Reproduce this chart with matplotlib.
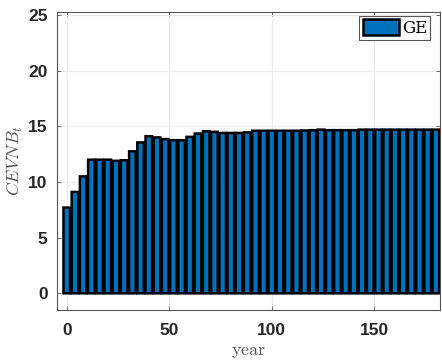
import numpy as np
import matplotlib
matplotlib.use("Agg")
import matplotlib.pyplot as plt

# Yearly values of CEVNB_t for the GE scenario, every 4 years
years = np.arange(0, 181, 4)
cevnb = [7.7, 9.1, 10.5, 12.0, 12.0, 12.0, 11.9, 11.95, 12.75, 13.55,
         14.1, 14.0, 13.85, 13.75, 13.75, 14.05, 14.35, 14.55, 14.5, 14.4,
         14.4, 14.4, 14.45, 14.6, 14.6, 14.6, 14.6, 14.6, 14.6, 14.62,
         14.65, 14.7, 14.65, 14.65, 14.65, 14.65, 14.7, 14.7, 14.7, 14.7,
         14.7, 14.7, 14.7, 14.7, 14.7, 14.7]
series_label = "GE"
xticks = [0, 50, 100, 150]
yticks = [0, 5, 10, 15, 20, 25]

plt.rcParams["mathtext.fontset"] = "cm"

fig = plt.figure(figsize=(4.42, 3.62), dpi=100)
ax = fig.add_axes([0.1297, 0.1436, 0.8658, 0.8244])

bars = ax.bar(years, cevnb, width=3.2, color="#0072BD", edgecolor="black",
              linewidth=1.8, label=series_label, zorder=3)
for b in bars:
    b.set_snap(False)

ax.set_xlim(-4.6, 182)
ax.set_ylim(-1.5, 25.3)
ax.set_xticks(xticks)
ax.set_yticks(yticks)
ax.grid(True, color="#ebebeb", linewidth=0.8, zorder=0)

dark = "#262626"
for s in ax.spines.values():
    s.set_color("#555555")
    s.set_linewidth(0.8)
ax.tick_params(direction="in", length=3, width=0.6, color="#555555",
               top=True, right=True, labelsize=12.5, labelcolor=dark)
ax.tick_params(axis="x", pad=9)
ax.tick_params(axis="y", pad=7)
for lab in ax.get_xticklabels() + ax.get_yticklabels():
    lab.set_fontfamily("Liberation Sans")
    lab.set_fontweight("bold")

ax.set_xlabel(r"$\mathrm{year}$", fontsize=13, color="#555555", labelpad=3)
ax.set_ylabel(r"$CEVNB_t$", fontsize=13, color="#555555", labelpad=2)

leg = ax.legend(loc="upper right", bbox_to_anchor=(0.975, 0.985),
                prop={"family": "DejaVu Serif", "size": 12},
                handlelength=2.2, handleheight=1.05, handletextpad=0.15,
                borderpad=0.2, borderaxespad=0.0, fancybox=False,
                framealpha=1, edgecolor="#555555")
leg.get_frame().set_linewidth(0.8)
for t in leg.get_texts():
    t.set_fontfamily("serif")

fig.savefig("out.png", dpi=100)
